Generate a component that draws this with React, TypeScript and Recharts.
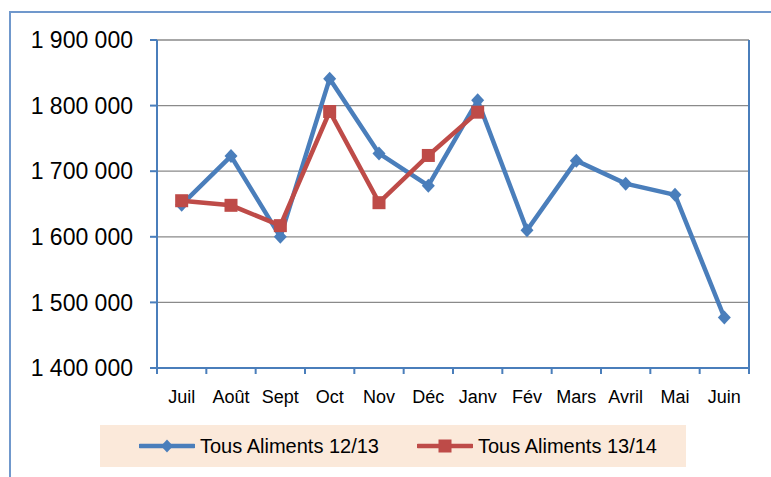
import React from 'react'
import {
  LineChart,
  Line,
  XAxis,
  YAxis,
  CartesianGrid,
} from 'recharts'

// Monthly volumes
const MONTHS = ['Juil', 'Août', 'Sept', 'Oct', 'Nov', 'Déc', 'Janv', 'Fév', 'Mars', 'Avril', 'Mai', 'Juin']
const TOUS_1213 = [1649000, 1723000, 1600000, 1841000, 1727000, 1678000, 1808000, 1610000, 1716000, 1681000, 1664000, 1477000]
const TOUS_1314 = [1655000, 1648000, 1617000, 1791000, 1652000, 1724000, 1790000, null, null, null, null, null]
const Y_TICKS = [1400000, 1500000, 1600000, 1700000, 1800000, 1900000]
const SERIES_1213 = 'Tous Aliments 12/13'
const SERIES_1314 = 'Tous Aliments 13/14'

const W = 771
const H = 477
const PLOT_LEFT = 157
const PLOT_RIGHT = 749
const PLOT_TOP = 40
const PLOT_BOTTOM = 368
const BAND = (PLOT_RIGHT - PLOT_LEFT) / MONTHS.length

const BLUE = '#4a7ebb'
const RED = '#be4b48'
const AXIS = '#4a7ebb'
const GRID = '#8a8a8a'
const FONT = '"Liberation Sans", Arial, sans-serif'

const chartData = MONTHS.map((m, i) => ({
  month: m,
  a: TOUS_1213[i],
  b: TOUS_1314[i],
}))

const fmt = (v: number) => String(v).replace(/\B(?=(\d{3})+(?!\d))/g, ' ')

function Diamond({ cx, cy }: { cx?: number; cy?: number }) {
  if (cx == null || cy == null) return null
  return (
    <polygon
      points={`${cx},${cy - 7} ${cx + 6.5},${cy} ${cx},${cy + 7} ${cx - 6.5},${cy}`}
      fill={BLUE}
    />
  )
}

function Square({ cx, cy }: { cx?: number; cy?: number }) {
  if (cx == null || cy == null) return null
  return <rect x={cx - 6.5} y={cy - 6.5} width={13} height={13} fill={RED} />
}

function MonthTick(props: any) {
  const { x, y, payload, index } = props
  const left = x - BAND / 2
  const right = x + BAND / 2
  return (
    <g>
      <line x1={left} y1={y} x2={left} y2={y + 6} stroke={AXIS} strokeWidth={2} />
      {index === MONTHS.length - 1 && (
        <line x1={right} y1={y} x2={right} y2={y + 6} stroke={AXIS} strokeWidth={2} />
      )}
      <text x={x} y={y + 35} textAnchor="middle" fontSize={18} fontFamily={FONT} fill="#000">
        {payload.value}
      </text>
    </g>
  )
}

function LegendBox() {
  const item = (color: string, marker: React.ReactNode, label: string) => (
    <div style={{ display: 'flex', alignItems: 'center' }}>
      <svg width={56} height={16} style={{ marginRight: 5 }}>
        <line x1={1} y1={8} x2={55} y2={8} stroke={color} strokeWidth={4.5} strokeLinecap="round" />
        {marker}
      </svg>
      <span style={{ fontFamily: FONT, fontSize: 20, color: '#000' }}>{label}</span>
    </div>
  )
  return (
    <div
      style={{
        position: 'absolute',
        left: 100,
        top: 425,
        width: 586,
        height: 42,
        background: '#fbe9da',
        display: 'flex',
        alignItems: 'center',
        justifyContent: 'center',
        gap: 38,
        paddingLeft: 10,
        boxSizing: 'border-box',
      }}
    >
      {item(BLUE, <polygon points="28,1.5 34,8 28,14.5 22,8" fill={BLUE} />, SERIES_1213)}
      {item(RED, <rect x={21.5} y={1.5} width={13} height={13} fill={RED} />, SERIES_1314)}
    </div>
  )
}

export default function App() {
  return (
    <div style={{ position: 'absolute', left: 0, top: 0, width: W, height: H, background: '#fff', overflow: 'hidden' }}>
      <div
        style={{
          position: 'absolute',
          left: 9,
          top: 11,
          width: W - 9,
          height: H - 11,
          borderLeft: '2px solid #7098cc',
          borderTop: '2px solid #7098cc',
          boxSizing: 'border-box',
        }}
      />
      <div style={{ position: 'absolute', left: 0, top: 0 }}>
        <LineChart
          width={W}
          height={H}
          data={chartData}
          margin={{ top: PLOT_TOP, right: 0, left: 0, bottom: 0 }}
        >
          <CartesianGrid vertical={false} stroke={GRID} strokeWidth={1.3} />
          <XAxis
            dataKey="month"
            height={H - PLOT_BOTTOM}
            interval={0}
            padding={{ left: BAND / 2, right: BAND / 2 }}
            axisLine={{ stroke: AXIS, strokeWidth: 2 }}
            tickLine={false}
            tickSize={0}
            tickMargin={0}
            tick={<MonthTick />}
          />
          <XAxis
            xAxisId="top"
            orientation="top"
            dataKey="month"
            height={0}
            axisLine={{ stroke: AXIS, strokeWidth: 2 }}
            tick={false}
            tickLine={false}
          />
          <YAxis
            width={PLOT_LEFT}
            domain={[1400000, 1900000]}
            ticks={Y_TICKS}
            allowDataOverflow
            axisLine={{ stroke: AXIS, strokeWidth: 2 }}
            tickLine={{ stroke: AXIS, strokeWidth: 2 }}
            tickSize={7}
            tickMargin={17}
            tickFormatter={fmt}
            tick={{ fill: '#000', fontSize: 23, fontFamily: FONT }}
          />
          <YAxis
            yAxisId="right"
            orientation="right"
            width={W - PLOT_RIGHT}
            domain={[1400000, 1900000]}
            axisLine={{ stroke: AXIS, strokeWidth: 2 }}
            tick={false}
            tickLine={false}
          />
          <Line
            type="linear"
            dataKey="a"
            name={SERIES_1213}
            stroke={BLUE}
            strokeWidth={4.5}
            dot={(p: any) => <Diamond key={`a-${p.index}`} cx={p.cx} cy={p.cy} />}
            activeDot={false}
            isAnimationActive={false}
          />
          <Line
            type="linear"
            dataKey="b"
            name={SERIES_1314}
            stroke={RED}
            strokeWidth={4.5}
            dot={(p: any) => <Square key={`b-${p.index}`} cx={p.cx} cy={p.cy} />}
            activeDot={false}
            isAnimationActive={false}
          />
        </LineChart>
      </div>
      <LegendBox />
    </div>
  )
}
